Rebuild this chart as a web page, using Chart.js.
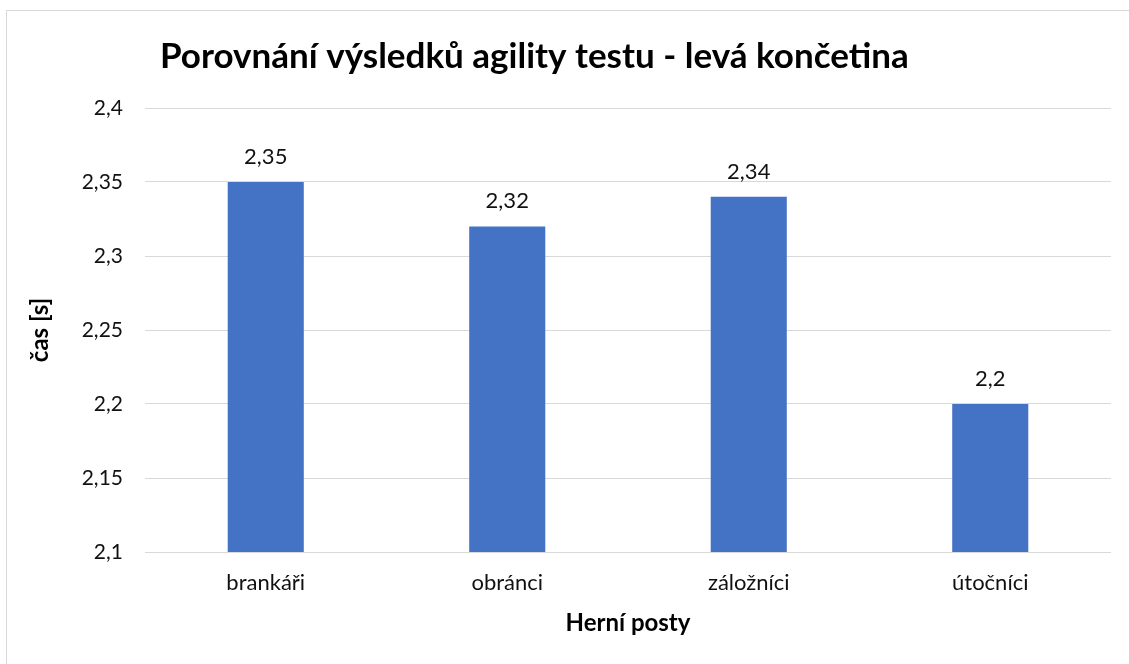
<!DOCTYPE html>
<html>
<head>
<meta charset="utf-8">
<script src="https://cdn.jsdelivr.net/npm/chart.js@4.4.1/dist/chart.umd.min.js"></script>
<style>
  html, body { margin: 0; padding: 0; background: #ffffff; }
  #wrap { position: relative; width: 1129px; height: 664px; }
  canvas { display: block; }
</style>
</head>
<body>
<div id="wrap"><canvas id="c" width="1129" height="664"></canvas></div>
<script>
const chartTitle = 'Porovnání výsledků agility testu - levá končetina';
const categories = ['brankáři', 'obránci', 'záložníci', 'útočníci'];
const values = [2.35, 2.32, 2.34, 2.2];
const yMin = 2.1;
const yMax = 2.4;
const yStep = 0.05;
const xAxisTitle = 'Herní posty';
const yAxisTitle = 'čas [s]';

const FONT = 'Lato, "Open Sans", sans-serif';
const TEXT = '#111111';

function fmt(v) {
  return parseFloat(Number(v).toFixed(2)).toString().replace('.', ',');
}

const framePlugin = {
  id: 'frame',
  beforeDraw(chart) {
    const ctx = chart.ctx;
    ctx.save();
    ctx.fillStyle = '#ffffff';
    ctx.fillRect(0, 0, chart.width, chart.height);
    ctx.strokeStyle = '#d9d9d9';
    ctx.lineWidth = 1;
    ctx.strokeRect(6.5, 10.5, 3000, 3000);
    ctx.restore();
  },
  afterDraw(chart) {
    const ctx = chart.ctx;
    ctx.save();
    ctx.fillStyle = '#000000';
    ctx.font = 'bold 35px ' + FONT;
    ctx.textBaseline = 'middle';
    ctx.textAlign = 'left';
    ctx.fillText(chartTitle, 160, 57);
    // data labels
    const meta = chart.getDatasetMeta(0);
    ctx.font = '22px ' + FONT;
    ctx.fillStyle = TEXT;
    ctx.textAlign = 'center';
    meta.data.forEach((bar, i) => {
      ctx.fillText(fmt(chart.data.datasets[0].data[i]), bar.x, bar.y - 25);
    });
    ctx.restore();
  }
};

new Chart(document.getElementById('c'), {
  type: 'bar',
  data: {
    labels: categories,
    datasets: [{
      data: values,
      backgroundColor: '#4472C4',
      borderWidth: 0,
      categoryPercentage: 1.0,
      barPercentage: 0.315
    }]
  },
  options: {
    responsive: false,
    animation: false,
    devicePixelRatio: 1,
    layout: { padding: { left: 6, right: 18, top: 108, bottom: 0 } },
    plugins: {
      legend: { display: false },
      title: { display: false },
      tooltip: { enabled: false }
    },
    scales: {
      x: {
        grid: { display: false, drawTicks: false },
        border: { display: false },
        ticks: { color: TEXT, font: { family: FONT, size: 22 }, padding: 18, maxRotation: 0 },
        title: { display: true, text: xAxisTitle, color: '#000', font: { family: FONT, size: 24, weight: 'bold' }, padding: { top: 0, bottom: 26 } },
        afterFit(scale) { scale.height = 664 - 552; }
      },
      y: {
        min: yMin,
        max: yMax,
        grid: { color: '#d9d9d9', lineWidth: 1, drawTicks: false },
        border: { display: false },
        ticks: {
          stepSize: yStep,
          color: TEXT,
          font: { family: FONT, size: 21 },
          padding: 22,
          callback: (v) => fmt(v)
        },
        title: { display: true, text: yAxisTitle, color: '#000', font: { family: FONT, size: 24, weight: 'bold' }, padding: { top: 20, bottom: 0 } },
        afterFit(scale) { scale.width = 145 - 6; }
      }
    }
  },
  plugins: [framePlugin]
});
</script>
</body>
</html>
